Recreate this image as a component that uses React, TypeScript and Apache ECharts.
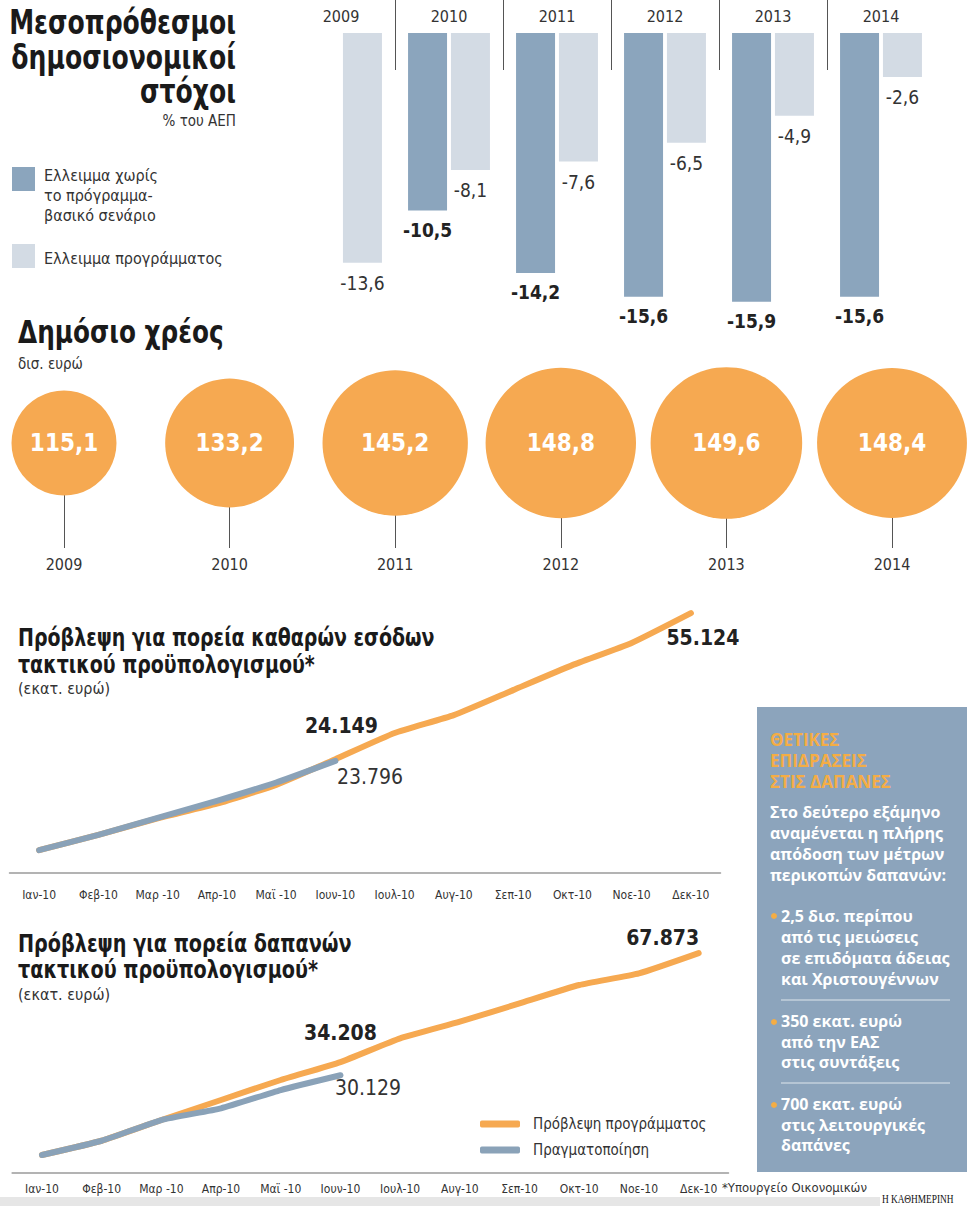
import React, { useEffect, useRef } from 'react';
import * as echarts from 'echarts';

// ---------- data ----------
const years = ['2009', '2010', '2011', '2012', '2013', '2014'];
const deficitBaseline = [null, -10.5, -14.2, -15.6, -15.9, -15.6];
const deficitProgram = [-13.6, -8.1, -7.6, -6.5, -4.9, -2.6];
const debt = [115.1, 133.2, 145.2, 148.8, 149.6, 148.4];

const months = ['Ιαν-10', 'Φεβ-10', 'Μαρ -10', 'Απρ-10', 'Μαϊ -10', 'Ιουν-10', 'Ιουλ-10', 'Αυγ-10', 'Σεπ-10', 'Οκτ-10', 'Νοε-10', 'Δεκ-10'];
const revenueForecast = [4850, 8100, 11600, 14700, 18700, 24149, 29700, 33500, 38800, 44100, 48800, 55124];
const revenueActual = [4850, 8100, 11700, 15300, 19200, 23796];
const spendingForecast = [5500, 9900, 16300, 22480, 28660, 34208, 41540, 46670, 52340, 58000, 61610, 67873];
const spendingActual = [5500, 9900, 16300, 19920, 25570, 30129];

const nameBaseline = 'Ελλειμμα χωρίς το πρόγραμμα-βασικό σενάριο';
const nameProgram = 'Ελλειμμα προγράμματος';
const nameForecast = 'Πρόβλεψη προγράμματος';
const nameActual = 'Πραγματοποίηση';

// ---------- style ----------
const COND = "'Liberation Sans Narrow', 'DejaVu Sans Condensed', 'Roboto', sans-serif";
const BOXFONT = "'Open Sans', 'Roboto', sans-serif";
const DARK = '#8ba5bd';
const LIGHT = '#d3dbe4';
const ORANGE = '#f6a951';
const BLUE = '#8aa2b8';
const BOX = '#8ca4bc';
const TXT = '#222';
const BOXTITLE = '#f4ad45';

const dec = (v: number) => v.toFixed(1).replace('.', ',');
const thou = (v: number) => String(v).replace(/\B(?=(\d{3})+(?!\d))/g, '.');

function buildOption() {
  const minDebt = Math.min(...debt);
  const boldLbl = { show: true, fontFamily: COND, fontSize: 21, fontWeight: 'bold', color: TXT, formatter: (p: any) => thou(p.value) };
  const regLbl = { show: true, fontFamily: COND, fontSize: 21, color: '#333', formatter: (p: any) => thou(p.value) };

  const lineSeries = (name: string, color: string, idx: number, data: any[], z: number) => ({
    type: 'line', name, xAxisIndex: idx, yAxisIndex: idx, data, smooth: 0.15,
    symbol: 'circle', symbolSize: 1, showSymbol: true,
    lineStyle: { color, width: 6, cap: 'round', join: 'round' },
    itemStyle: { color }, z, emphasis: { disabled: true },
  });

  const revJune = revenueActual.length - 1;
  const revF = revenueForecast.map((v, i) =>
    i === revJune ? { value: v, label: { ...boldLbl, position: 'top', distance: 22, offset: [6, 0] } }
      : i === revenueForecast.length - 1 ? { value: v, label: { ...boldLbl, position: 'bottom', distance: 14, offset: [12, 0] } } : v);
  const revA = revenueActual.map((v, i) =>
    i === revJune ? { value: v, label: { ...regLbl, position: 'right', distance: 1, offset: [0, 16] } } : v);

  const spJune = spendingActual.length - 1;
  const spF = spendingForecast.map((v, i) =>
    i === spJune ? { value: v, label: { ...boldLbl, position: 'top', distance: 18 } }
      : i === spendingForecast.length - 1 ? { value: v, label: { ...boldLbl, position: 'top', distance: 4, offset: [-36, 0] } } : v);
  const spA = spendingActual.map((v, i) =>
    i === spJune ? { value: v, label: { ...regLbl, position: 'right', distance: 0, offset: [-6, 13] } } : v);

  const monthAxis = (gridIndex: number, offset: number, margin: number) => ({
    type: 'category', gridIndex, data: months, boundaryGap: true, offset,
    axisLine: { show: true, lineStyle: { color: '#9a9a9a', width: 1.5 } },
    axisTick: { show: false },
    axisLabel: { fontFamily: COND, fontSize: 12, color: '#333', margin, interval: 0 },
    splitLine: { show: false },
  });

  const txt = (x: number, y: number, text: string, o: any = {}) => ({
    type: 'text', x, y, silent: true, scaleX: o.scaleX || 1,
    style: { text, fill: o.fill || TXT, fontFamily: o.fontFamily || COND, fontSize: o.fontSize || 16,
      fontWeight: o.fontWeight || 'normal', align: o.align || 'left', verticalAlign: 'top', lineHeight: o.lineHeight },
  });

  const boxBody = { fontFamily: BOXFONT, fontSize: 16, fontWeight: 'bold', fill: '#fff' };

  const graphic: any[] = [
    // titles
    txt(236, 5, 'Μεσοπρόθεσμοι\nδημοσιονομικοί\nστόχοι', { fontSize: 34, fontWeight: 'bold', align: 'right', lineHeight: 34.5, fill: '#1a1a1a', scaleX: 0.82 }),
    txt(236, 113, '% του ΑΕΠ', { fontSize: 15, align: 'right', fill: '#333' }),
    // bar legend
    { type: 'rect', shape: { x: 12, y: 167, width: 23, height: 24 }, style: { fill: DARK }, silent: true },
    txt(44, 165, 'Ελλειμμα χωρίς\nτο πρόγραμμα-\nβασικό σενάριο', { fontSize: 16, lineHeight: 20, fill: '#333' }),
    { type: 'rect', shape: { x: 12, y: 244, width: 23, height: 24 }, style: { fill: LIGHT }, silent: true },
    txt(44, 248, nameProgram, { fontSize: 16, lineHeight: 20, fill: '#333' }),
    // debt
    txt(18, 316, 'Δημόσιο χρέος', { fontSize: 32, fontWeight: 'bold', fill: '#1a1a1a', scaleX: 0.86 }),
    txt(18, 356, 'δισ. ευρώ', { fontSize: 15, fill: '#333' }),
    // line titles
    txt(18, 624, 'Πρόβλεψη για πορεία καθαρών εσόδων\nτακτικού προϋπολογισμού*', { fontSize: 24, fontWeight: 'bold', lineHeight: 27, fill: '#1a1a1a', scaleX: 0.88 }),
    txt(18, 680, '(εκατ. ευρώ)', { fontSize: 16, fill: '#333' }),
    txt(18, 931, 'Πρόβλεψη για πορεία δαπανών\nτακτικού προϋπολογισμού*', { fontSize: 24, fontWeight: 'bold', lineHeight: 26, fill: '#1a1a1a', scaleX: 0.89 }),
    txt(18, 986, '(εκατ. ευρώ)', { fontSize: 16, fill: '#333' }),
    // info box
    { type: 'rect', shape: { x: 757, y: 707, width: 210, height: 465 }, style: { fill: BOX }, silent: true },
    txt(770, 729, 'ΘΕΤΙΚΕΣ\nΕΠΙΔΡΑΣΕΙΣ\nΣΤΙΣ ΔΑΠΑΝΕΣ', { fontFamily: BOXFONT, fontSize: 17, fontWeight: 'bold', lineHeight: 21, fill: BOXTITLE }),
    txt(770, 801, 'Στο δεύτερο εξάμηνο\nαναμένεται η πλήρης\nαπόδοση των μέτρων\nπερικοπών δαπανών:', { ...boxBody, lineHeight: 21 }),
    { type: 'circle', shape: { cx: 774, cy: 916, r: 3 }, style: { fill: BOXTITLE }, silent: true },
    txt(781, 905, '2,5 δισ. περίπου\nαπό τις μειώσεις\nσε επιδόματα άδειας\nκαι Χριστουγέννων', { ...boxBody, lineHeight: 21 }),
    { type: 'line', shape: { x1: 781, y1: 1000, x2: 950, y2: 1000 }, style: { stroke: '#c3d0dc', lineWidth: 1.5 }, silent: true },
    { type: 'circle', shape: { cx: 774, cy: 1022, r: 3 }, style: { fill: BOXTITLE }, silent: true },
    txt(781, 1011, '350 εκατ. ευρώ\nαπό την ΕΑΣ\nστις συντάξεις', { ...boxBody, lineHeight: 20.5 }),
    { type: 'line', shape: { x1: 781, y1: 1083, x2: 950, y2: 1083 }, style: { stroke: '#c3d0dc', lineWidth: 1.5 }, silent: true },
    { type: 'circle', shape: { cx: 774, cy: 1105, r: 3 }, style: { fill: BOXTITLE }, silent: true },
    txt(781, 1094, '700 εκατ. ευρώ\nστις λειτουργικές\nδαπάνες', { ...boxBody, lineHeight: 20.5 }),
    // footer
    { type: 'rect', shape: { x: 0, y: 1197, width: 880, height: 9 }, style: { fill: '#e6e6e6' }, silent: true },
    txt(722, 1181, '*Υπουργείο Οικονομικών', { fontSize: 13, fill: '#333' }),
    txt(882, 1193, 'Η ΚΑΘΗΜΕΡΙΝΗ', { fontSize: 12, fill: '#111', fontFamily: "'Liberation Serif', serif", scaleX: 0.78 }),
  ];

  return {
    animation: false,
    backgroundColor: '#fff',
    textStyle: { fontFamily: COND },
    graphic,
    legend: {
      data: [nameForecast, nameActual], orient: 'vertical', left: 480, top: 1115, padding: 0,
      icon: 'roundRect', itemWidth: 40, itemHeight: 7, itemGap: 8, selectedMode: false,
      textStyle: { fontFamily: COND, fontSize: 15, color: '#333', lineHeight: 18, padding: [0, 0, 0, 8] },
    },
    grid: [
      { left: 287, top: 33, width: 648, height: 270.4 },
      { left: 287, top: 0, width: 648, height: 70 },
      { left: 9.5, top: 590.2, width: 711, height: 282.8 },
      { left: 12.1, top: 913.8, width: 716.4, height: 259 },
    ],
    xAxis: [
      { type: 'category', gridIndex: 0, data: years, position: 'top',
        axisLine: { show: false }, axisTick: { show: false },
        axisLabel: { fontFamily: COND, fontSize: 16, color: '#333', margin: 9 } },
      { type: 'category', gridIndex: 1, data: years,
        axisLine: { show: false }, axisTick: { show: false }, axisLabel: { show: false },
        splitLine: { show: true, showMinLine: false, showMaxLine: false, lineStyle: { color: '#555', width: 1 } } },
      monthAxis(2, 4, 12),
      monthAxis(3, 0, 10),
    ],
    yAxis: [
      { type: 'value', gridIndex: 0, min: -16, max: 0, show: false },
      { type: 'value', gridIndex: 1, min: 0, max: 1, show: false },
      { type: 'value', gridIndex: 2, min: 0, max: 60000, show: false },
      { type: 'value', gridIndex: 3, min: 0, max: 80000, show: false },
    ],
    singleAxis: {
      type: 'category', data: years, left: 64, width: 828, top: 338, height: 210, boundaryGap: false,
      axisLine: { show: false },
      axisTick: { show: true, inside: true, length: 105, lineStyle: { color: '#555', width: 1 } },
      axisLabel: { fontFamily: COND, fontSize: 16, color: '#333', margin: 8 },
      splitLine: { show: false },
    },
    series: [
      { type: 'bar', name: nameBaseline, xAxisIndex: 0, yAxisIndex: 0, data: deficitBaseline,
        barWidth: 39, barGap: '10%', itemStyle: { color: DARK },
        label: { show: true, position: 'bottom', distance: 10, fontFamily: COND, fontSize: 19, fontWeight: 'bold', color: TXT,
          formatter: (p: any) => dec(p.value) } },
      { type: 'bar', name: nameProgram, xAxisIndex: 0, yAxisIndex: 0, data: deficitProgram,
        barWidth: 39, itemStyle: { color: LIGHT },
        label: { show: true, position: 'bottom', distance: 11, fontFamily: COND, fontSize: 19, color: '#333',
          formatter: (p: any) => dec(p.value) } },
      { type: 'scatter', coordinateSystem: 'singleAxis', singleAxisIndex: 0,
        data: debt.map((v, i) => [i, v]),
        symbolSize: (val: any) => 105 * Math.pow(val[1] / minDebt, 1.4),
        itemStyle: { color: ORANGE, opacity: 1 },
        label: { show: true, position: 'inside', formatter: (p: any) => dec(p.value[1]), color: '#fff', fontSize: 24, fontWeight: 'bold', fontFamily: COND },
        emphasis: { disabled: true } },
      lineSeries(nameForecast, ORANGE, 2, revF, 3),
      lineSeries(nameActual, BLUE, 2, revA, 4),
      lineSeries(nameForecast, ORANGE, 3, spF, 3),
      lineSeries(nameActual, BLUE, 3, spA, 4),
    ],
  };
}

export default function App() {
  const ref = useRef<HTMLDivElement>(null);
  useEffect(() => {
    if (!ref.current) return;
    const chart = echarts.init(ref.current, undefined, { renderer: 'svg' });
    chart.setOption(buildOption() as any);
    return () => chart.dispose();
  }, []);
  return <div ref={ref} style={{ position: 'absolute', left: 0, top: 0, width: 967, height: 1206, background: '#fff' }} />;
}
